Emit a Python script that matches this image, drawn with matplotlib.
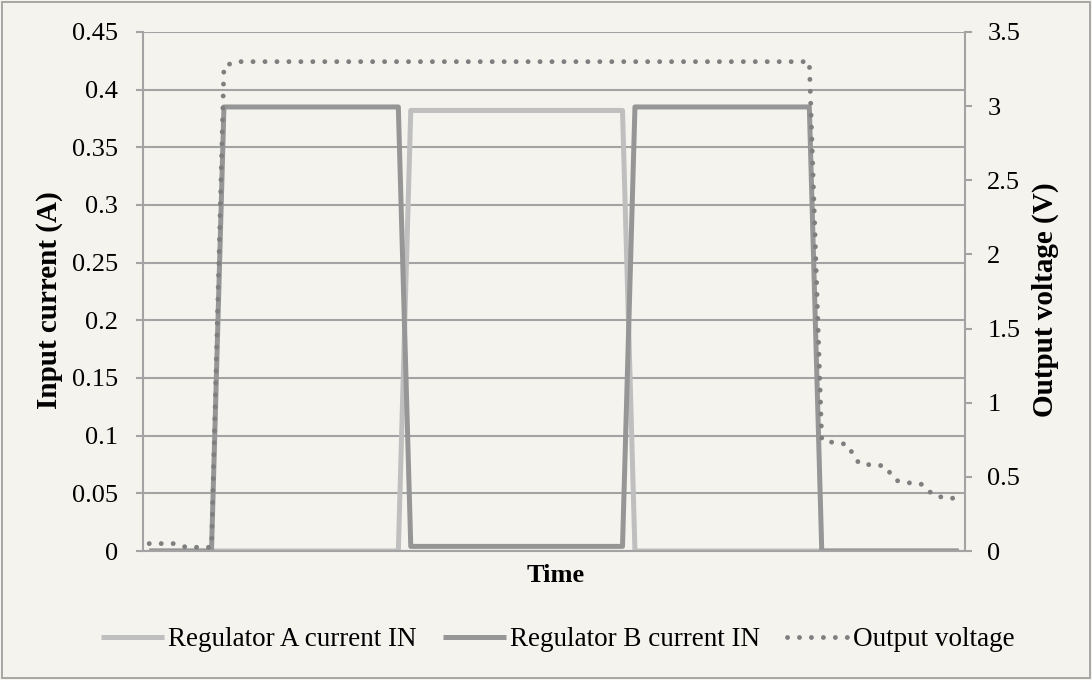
import matplotlib.pyplot as plt
from matplotlib.lines import Line2D
from matplotlib.patches import Rectangle

# ---- data (66 equally spaced samples) ----
reg_a_current = [0.0] * 21 + [0.382] * 18 + [0.0] * 27
reg_b_current = [0.0] * 6 + [0.385] * 15 + [0.004] * 18 + [0.385] * 15 + [0.0] * 12
output_voltage = ([0.05] * 3 + [0.025] * 3 + [3.27] + [3.3] * 47 +
                  [0.75, 0.73, 0.72, 0.59, 0.58, 0.575, 0.475, 0.46, 0.45, 0.375, 0.357, 0.355])
samples = list(range(len(reg_a_current)))

left_ticks = [0, 0.05, 0.1, 0.15, 0.2, 0.25, 0.3, 0.35, 0.4, 0.45]
left_labels = ["0", "0.05", "0.1", "0.15", "0.2", "0.25", "0.3", "0.35", "0.4", "0.45"]
right_ticks = [0, 0.5, 1, 1.5, 2, 2.5, 3, 3.5]
right_labels = ["0", "0.5", "1", "1.5", "2", "2.5", "3", "3.5"]

# ---- style ----
bg = "#F4F3EE"
grid_col = "#A3A3A3"
col_a = "#BFBFBF"
col_b = "#969696"
col_v = "#7F7F7F"
fs = 19

plt.rcParams['font.family'] = ['Liberation Serif', 'DejaVu Serif']

fig = plt.figure(figsize=(10.92, 6.8), dpi=100, facecolor=bg)
ax = fig.add_axes([143 / 1092, 129 / 680, 822 / 1092, 519 / 680])
ax.set_facecolor(bg)
ax2 = ax.twinx()

ax.plot(samples, reg_a_current, color=col_a, lw=3.6, solid_joinstyle='round',
        solid_capstyle='butt', label="Regulator A current IN")
ax.plot(samples, reg_b_current, color=col_b, lw=3.6, solid_joinstyle='round',
        solid_capstyle='butt', label="Regulator B current IN")
ax2.plot(samples, output_voltage, color=col_v, lw=3.5, dashes=(0.01, 2.45),
         dash_capstyle='round', label="Output voltage")

ax.set_xlim(-0.5, len(samples) - 0.5)
ax.set_ylim(0, 0.45)
ax2.set_ylim(0, 3.5)

ax.set_yticks(left_ticks)
ax.set_yticklabels(left_labels)
ax2.set_yticks(right_ticks)
ax2.set_yticklabels(right_labels)
ax.set_xticks([])

ax.grid(axis='y', color=grid_col, lw=1.5)
ax.set_axisbelow(True)

for a in (ax, ax2):
    for s in a.spines.values():
        s.set_visible(False)
ax.spines['left'].set_visible(True)
ax.spines['left'].set_color(grid_col)
ax.spines['left'].set_linewidth(1.5)
ax.spines['bottom'].set_visible(True)
ax.spines['bottom'].set_color(grid_col)
ax.spines['bottom'].set_linewidth(1.5)
ax2.spines['right'].set_visible(True)
ax2.spines['right'].set_color(grid_col)
ax2.spines['right'].set_linewidth(1.5)

ax.tick_params(axis='y', length=5, width=1.5, color=grid_col, labelsize=fs, pad=13)
ax2.tick_params(axis='y', length=5, width=1.5, color=grid_col, labelsize=fs, pad=11)

fig.text(50 / 1092, 1 - 300 / 680, "Input current (A)", rotation=90, fontsize=21,
         fontweight='bold', ha='center', va='center')
fig.text(1045 / 1092, 1 - 300 / 680, "Output voltage (V)", rotation=90, fontsize=21,
         fontweight='bold', ha='center', va='center')
fig.text(556 / 1092, 1 - 575 / 680, "Time", fontsize=fs, fontweight='bold',
         ha='center', va='center')

handles = [
    Line2D([], [], color=col_a, lw=3.6, solid_capstyle='butt'),
    Line2D([], [], color=col_b, lw=3.6, solid_capstyle='butt'),
    Line2D([], [], color=col_v, lw=3.5, dashes=(0.01, 2.45), dash_capstyle='round'),
]
labels = ["Regulator A current IN", "Regulator B current IN", "Output voltage"]
fig.legend(handles, labels, loc='center', bbox_to_anchor=(558 / 1092, 1 - 640 / 680),
           ncol=3, frameon=False, fontsize=19.5, handlelength=2.3, handletextpad=0.15,
           columnspacing=1.0)

fig.patches.append(Rectangle((2 / 1092, 2 / 680), 1088 / 1092, 676 / 680,
                             transform=fig.transFigure, fill=False,
                             edgecolor='#A0A0A0', lw=1.3))

fig.savefig("out.png", dpi=100, facecolor=bg)
